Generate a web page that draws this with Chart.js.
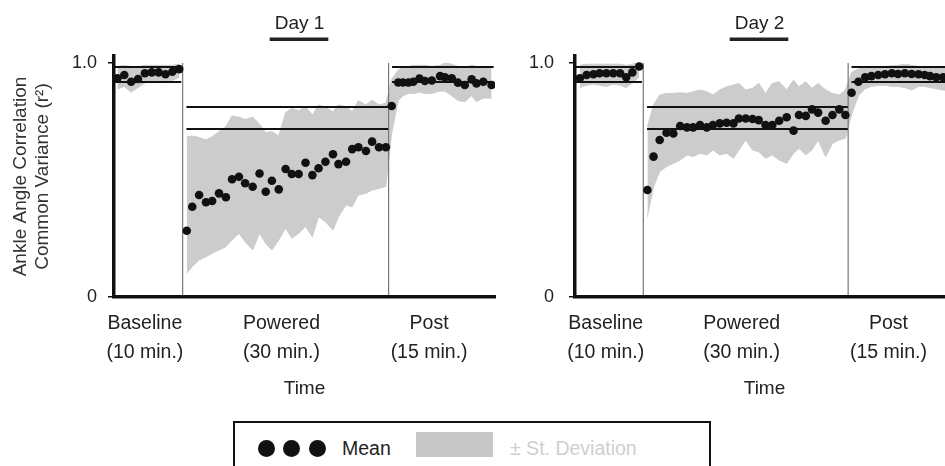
<!DOCTYPE html>
<html>
<head>
<meta charset="utf-8">
<script src="https://cdn.jsdelivr.net/npm/chart.js@4.4.1/dist/chart.umd.min.js"></script>
<style>
html,body{margin:0;padding:0;width:945px;height:466px;overflow:hidden;background:#fff;font-family:"Liberation Sans",Arial,sans-serif;color:#222;}
#c1{position:absolute;left:0;top:0;}
#c2{position:absolute;left:500px;top:0;}
#legendBox{position:absolute;left:233px;top:421px;width:478px;height:70px;border:2.5px solid #111;box-sizing:border-box;}
.dot{position:absolute;top:440px;width:17px;height:17px;border-radius:50%;background:#111;}
.ltext{position:absolute;top:437px;font-size:19.5px;line-height:22px;white-space:nowrap;}
#sdSwatch{position:absolute;left:416px;top:432px;width:77px;height:25px;background:#c8c8c8;}
</style>
</head>
<body>
<canvas id="c1" width="500" height="402"></canvas>
<canvas id="c2" width="460" height="402"></canvas>
<div id="legendBox"></div>
<div class="dot" style="left:258px"></div>
<div class="dot" style="left:283px"></div>
<div class="dot" style="left:309px"></div>
<div class="ltext" style="left:342px">Mean</div>
<div id="sdSwatch"></div>
<div class="ltext" style="left:510px;color:#cfcfcf">± St. Deviation</div>
<script>
// ---------- data ----------
const phaseNames = ['Baseline', 'Powered', 'Post'];
const phaseDurations = ['(10 min.)', '(30 min.)', '(15 min.)'];
const phaseTickMinutes = [4.5, 24.4, 45.9];
const phaseBounds = [10, 40];
const yTickValues = [0, 1];
const yTickLabels = ['0', '1.0'];
const refLevels = [[0.919, 0.983], [0.718, 0.812], [0.919, 0.983]];
const refSpans = [[0.15, 9.8], [10.55, 39.95], [40.5, 55.3]];

const day1Minutes = [0.5,1.5,2.5,3.5,4.5,5.5,6.5,7.5,8.5,9.5,
  10.6,11.4,12.4,13.4,14.3,15.3,16.3,17.2,18.2,19.1,20.2,21.2,22.1,23.0,24.0,25.0,25.9,26.9,27.9,28.9,29.8,30.8,31.9,32.7,33.8,34.7,35.6,36.7,37.6,38.6,39.6,
  40.45,41.4,42.1,42.9,43.6,44.5,45.3,46.3,47.5,48.2,49.2,50.1,51.1,52.1,52.8,53.8,55.0];
const day1Mean = [0.935,0.949,0.920,0.932,0.956,0.960,0.960,0.952,0.963,0.974,
  0.283,0.386,0.436,0.405,0.410,0.443,0.426,0.503,0.514,0.486,0.471,0.528,0.450,0.497,0.460,0.547,0.526,0.526,0.574,0.521,0.550,0.578,0.610,0.568,0.578,0.632,0.640,0.624,0.664,0.640,0.640,
  0.816,0.917,0.917,0.917,0.920,0.934,0.923,0.925,0.944,0.939,0.935,0.916,0.906,0.930,0.913,0.920,0.906];
const day1Upper = [0.985,0.99,0.985,0.985,0.99,0.99,0.99,0.99,0.99,0.995,
  0.685,0.688,0.682,0.671,0.685,0.707,0.728,0.774,0.768,0.759,0.768,0.739,0.702,0.707,0.688,0.788,0.806,0.796,0.813,0.778,0.821,0.811,0.792,0.821,0.813,0.792,0.839,0.821,0.842,0.821,0.828,
  0.93,0.97,0.98,0.985,0.99,0.99,0.99,0.985,0.99,1.0,0.995,0.985,0.98,0.99,0.985,0.985,0.975];
const day1Lower = [0.89,0.90,0.875,0.895,0.915,0.92,0.92,0.915,0.925,0.94,
  0.101,0.130,0.158,0.172,0.187,0.201,0.215,0.244,0.272,0.236,0.201,0.272,0.229,0.201,0.244,0.294,0.251,0.272,0.301,0.258,0.343,0.322,0.286,0.343,0.393,0.386,0.436,0.443,0.457,0.464,0.472,
  0.70,0.84,0.86,0.87,0.87,0.875,0.87,0.87,0.88,0.88,0.86,0.84,0.835,0.86,0.835,0.85,0.85];

const day2Minutes = [0.7,1.7,2.7,3.6,4.6,5.6,6.6,7.5,8.4,9.4,
  10.6,11.5,12.4,13.4,14.4,15.4,16.4,17.3,18.3,19.3,20.2,21.2,22.2,23.2,24.0,25.0,26.0,26.9,27.9,28.9,29.9,31.0,32.0,32.8,33.8,34.7,35.6,36.7,37.7,38.7,39.6,
  40.5,41.5,42.5,43.4,44.4,45.4,46.4,47.3,48.3,49.3,50.3,51.2,52.0,52.9,53.9,54.9];
const day2Mean = [0.935,0.949,0.952,0.956,0.956,0.956,0.956,0.939,0.960,0.985,
  0.457,0.600,0.671,0.702,0.699,0.731,0.725,0.725,0.735,0.725,0.735,0.742,0.745,0.742,0.763,0.763,0.761,0.756,0.735,0.735,0.753,0.768,0.711,0.778,0.774,0.802,0.788,0.753,0.778,0.802,0.778,
  0.873,0.920,0.939,0.944,0.949,0.952,0.956,0.953,0.956,0.953,0.952,0.949,0.944,0.939,0.939,0.935];
const day2Upper = [0.99,0.995,0.995,0.995,0.995,0.995,0.995,0.99,0.995,1.0,
  0.728,0.821,0.863,0.870,0.870,0.873,0.870,0.877,0.885,0.877,0.863,0.885,0.899,0.906,0.913,0.885,0.892,0.913,0.870,0.913,0.920,0.885,0.927,0.899,0.920,0.892,0.913,0.885,0.870,0.863,0.885,
  0.96,0.975,0.98,0.982,0.985,0.985,0.988,0.99,0.995,0.99,0.985,0.985,0.985,0.98,0.98,0.978];
const day2Lower = [0.895,0.905,0.91,0.905,0.90,0.91,0.905,0.895,0.915,0.94,
  0.343,0.471,0.536,0.557,0.571,0.585,0.607,0.600,0.614,0.607,0.628,0.607,0.614,0.593,0.628,0.671,0.628,0.621,0.593,0.607,0.585,0.571,0.614,0.635,0.607,0.628,0.671,0.600,0.656,0.671,0.678,
  0.78,0.86,0.89,0.90,0.905,0.905,0.90,0.90,0.895,0.885,0.90,0.90,0.895,0.89,0.885,0.88];

// ---------- helpers ----------
const FONT = '"Liberation Sans", Arial, sans-serif';
Chart.defaults.font.family = FONT;
Chart.defaults.color = '#222';

function pts(t, v) { return t.map((m, i) => ({ x: m, y: v[i] })); }
function bandPts(t, v) {
  const out = [];
  t.forEach((m, i) => {
    if (i > 0 && t[i - 1] < phaseBounds[0] && m > phaseBounds[0]) out.push({ x: phaseBounds[0], y: null });
    out.push({ x: m, y: v[i] });
  });
  return out;
}

const titleDeco = {
  id: 'titleDeco',
  afterLayout(chart) {
    const b = chart.titleBlock;
    if (b) { b.left -= 5; b.right -= 5; }
  },
  afterDraw(chart) {
    const b = chart.titleBlock;
    const ctx = chart.ctx;
    ctx.save();
    ctx.font = '19px ' + FONT;
    const w = ctx.measureText(chart.options.plugins.title.text).width;
    const cx = (b.left + b.right) / 2;
    ctx.fillStyle = '#222';
    ctx.fillRect(cx - w / 2 - 5, 37.5, w + 9, 3.5);
    ctx.restore();
  }
};

function makeChart(id, title, t, mean, up, lo, isFirst) {
  const datasets = [];
  datasets.push({ type: 'line', data: pts(t, mean), showLine: false, pointRadius: 4.3, pointBackgroundColor: '#111', pointBorderWidth: 0 });
  refLevels.forEach((lv, k) => lv.forEach(y => {
    datasets.push({ type: 'line', data: [{ x: refSpans[k][0], y }, { x: refSpans[k][1], y }], borderColor: '#111', borderWidth: 2, pointRadius: 0 });
  }));
  phaseBounds.forEach(b => {
    datasets.push({ type: 'line', data: [{ x: b, y: 0 }, { x: b, y: 1 }], borderColor: '#777', borderWidth: 1.2, pointRadius: 0 });
  });
  datasets.push({ type: 'line', data: bandPts(t, up), borderColor: 'rgb(204,204,204)', borderWidth: 1, pointRadius: 0, fill: '+1', backgroundColor: 'rgb(204,204,204)', spanGaps: false });
  datasets.push({ type: 'line', data: bandPts(t, lo), borderColor: 'rgb(204,204,204)', borderWidth: 1, pointRadius: 0, fill: false, spanGaps: false });

  return new Chart(document.getElementById(id), {
    type: 'line',
    data: { datasets },
    plugins: [titleDeco],
    options: {
      responsive: false,
      animation: false,
      devicePixelRatio: 1,
      layout: { padding: { left: 0, right: isFirst ? 5 : 6, top: 0, bottom: 0 } },
      plugins: {
        legend: { display: false },
        tooltip: { enabled: false },
        title: { display: true, text: title, fullSize: false, color: '#222', font: { size: 19, weight: 'normal', lineHeight: '22px' }, padding: { top: 13, bottom: 21 } }
      },
      scales: {
        x: {
          type: 'linear', min: 0, max: 55.5,
          afterBuildTicks: s => { s.ticks = phaseTickMinutes.map(v => ({ value: v })); },
          afterFit: s => { s.height = 105; },
          ticks: { callback: (v, i) => [phaseNames[i], phaseDurations[i]], color: '#222', font: { size: 19.5, lineHeight: '29px' }, padding: 12, maxRotation: 0, autoSkip: false },
          grid: { display: false, drawTicks: false },
          border: { display: true, color: '#111', width: 3.5, z: 1 },
          title: { display: true, text: 'Time', color: '#222', font: { size: 19, lineHeight: '22px' }, padding: { top: 4, bottom: 2 } }
        },
        y: {
          min: 0, max: 1.03,
          afterBuildTicks: s => { s.ticks = yTickValues.map(v => ({ value: v })); },
          afterFit: s => { s.width = isFirst ? 114 : 75; },
          ticks: { callback: (v) => yTickLabels[yTickValues.indexOf(v)], color: '#222', font: { size: 18 }, padding: isFirst ? 11 : 15 },
          grid: { drawOnChartArea: false, drawTicks: true, tickLength: 6, color: '#111', lineWidth: 1.5 },
          border: { display: true, color: '#111', width: 3.5, z: 1 },
          title: { display: isFirst, text: ['Ankle Angle Correlation', 'Common Variance (r²)'], color: '#333', font: { size: 19, lineHeight: '22px' }, padding: { top: 10, bottom: 0 } }
        }
      }
    }
  });
}

makeChart('c1', 'Day 1', day1Minutes, day1Mean, day1Upper, day1Lower, true);
makeChart('c2', 'Day 2', day2Minutes, day2Mean, day2Upper, day2Lower, false);
</script>
</body>
</html>
